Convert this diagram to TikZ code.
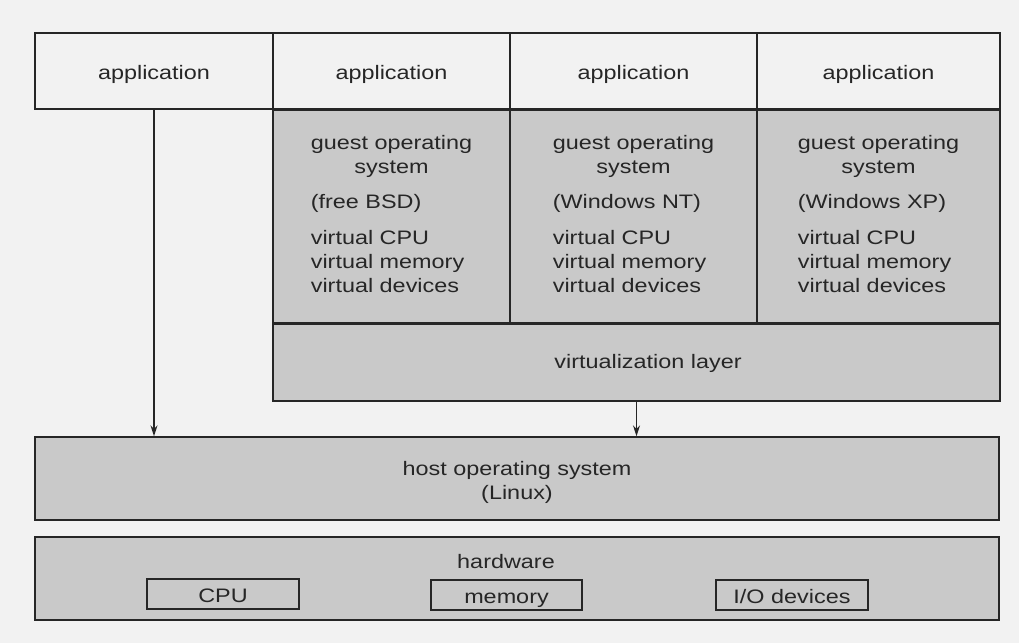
\documentclass[tikz,border=0pt]{standalone}
\usepackage{fontspec}
\setmainfont[FakeStretch=1.2]{Liberation Sans}
\usepackage{tikz}
\usetikzlibrary{arrows.meta, positioning}
\definecolor{shade}{gray}{0.79}
\definecolor{paper}{gray}{0.95}
\definecolor{ink}{gray}{0.15}

\begin{document}
\begin{tikzpicture}[x=1pt, y=-1pt, >={Stealth[length=11pt, width=7pt]},
  every node/.style={font=\fontsize{19.5}{24}\selectfont, text=ink},
  appbox/.style={draw=ink, line width=1.4pt, inner sep=0pt, minimum height=76pt, text height=17pt, text depth=1pt},
  layer/.style={draw=ink, line width=1.4pt, inner sep=0pt, fill=shade, align=center},
  unit/.style={draw=ink, line width=1.2pt, inner sep=0pt, fill=shade, minimum width=152pt, minimum height=30pt, text height=18pt, text depth=2pt},
  label/.style={inner sep=0pt, align=center}]

  % Background
  \fill[paper] (0,0) rectangle (1019,643);
  \useasboundingbox (0,0) rectangle (1019,643);

  % Applications
  \node[appbox, minimum width=238pt] (app1) at (154,71) {application};
  \node[appbox, minimum width=237pt] (app2) at (391.5,71) {application};
  \node[appbox, minimum width=247pt] (app3) at (633.5,71) {application};
  \node[appbox, minimum width=243pt] (app4) at (878.5,71) {application};

  % Guest operating systems
  \foreach \i/\w/\os in {2/237/free BSD, 3/247/Windows NT, 4/243/Windows XP} {
    \node[layer, anchor=north, minimum width=\w pt, minimum height=212pt] (guest\i) at (app\i.south) {};
    \node[label] (title\i) at ([yshift=-47pt]guest\i.north) {guest operating\\system};
    \node[label, anchor=west] (os\i) at (title\i.west |- 0,203) {(\os)};
    \node[label, anchor=west, align=left] (res\i) at (title\i.west |- 0,262) {virtual CPU\\virtual memory\\virtual devices};
  }

  % Virtualization layer
  \node[layer, anchor=north west, minimum width=727pt, minimum height=77pt] (virt) at (guest2.south west) {};
  \node[label] (virtlabel) at (648,363) {virtualization layer};

  % Host
  \node[layer, minimum width=964pt, minimum height=83pt] (host) at (517,478.5) {};
  \node[label] (hostlabel) at (517,482.5) {host operating system\\(Linux)};

  % Hardware
  \node[layer, minimum width=964pt, minimum height=83pt] (hw) at (517,578.5) {};
  \node[label] (hwlabel) at (506,562) {hardware};
  \node[unit] (cpu) at (223,594) {CPU};
  \node[unit, minimum width=151pt] (mem) at (506.5,595) {memory};
  \node[unit] (io) at (792,595) {I/O devices};

  % Arrows
  \draw[->, ink, line width=1.4pt] (app1.south) -- (app1.south |- host.north);
  \draw[->, ink, line width=1.4pt] (virt.south) -- (virt.south |- host.north);

\end{tikzpicture}
\end{document}
